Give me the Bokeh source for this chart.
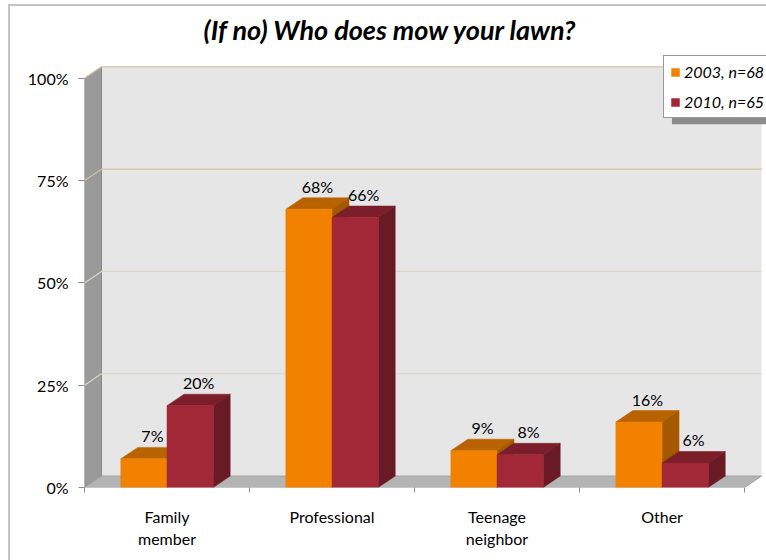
from bokeh.plotting import figure
from bokeh.models import Range1d, FixedTicker, PrintfTickFormatter, Legend, LegendItem
from bokeh.embed import file_html
from bokeh.resources import INLINE
from bokeh.core.properties import value

# ---- data ----
categories = ["Family\nmember", "Professional", "Teenage\nneighbor", "Other"]
series_names = ["2003, n=68", "2010, n=65"]
values_2003 = [7, 68, 9, 16]
values_2010 = [20, 66, 8, 6]
y_ticks = [0, 25, 50, 75, 100]
title_text = "(If no) Who does mow your lawn?"

# ---- styling ----
FONT = "Lato"
DX = 0.103      # depth offset along x (category units)
DY = 2.8        # depth offset along y (percent units)
BW = 0.28       # bar width (category units)
front_cols = ["#F28100", "#A22838"]
top_cols = ["#B86200", "#7C1E2A"]
side_cols = ["#A45800", "#6A1A24"]

ncat = len(categories)
ymax = y_ticks[-1]

border_bg = ("linear-gradient(#C4C4C4,#C4C4C4) 8px 4px / 2px 100% no-repeat, "
             "linear-gradient(#C4C4C4,#C4C4C4) 8px 4px / 100% 2px no-repeat, white")

p = figure(width=766, height=560, output_backend="svg", toolbar_location=None,
           x_range=Range1d(0, 4.133), y_range=Range1d(0, 106.8),
           min_border_left=84, min_border_right=0, min_border_top=50,
           min_border_bottom=73, background_fill_color="white",
           border_fill_color=None, outline_line_color=None,
           styles={"background": border_bg})

p.title.text = title_text
p.title.align = "left"
p.title.offset = 119
p.title.text_font = FONT
p.title.text_font_size = "27px"
p.title.text_font_style = "bold italic"
p.title.text_color = "black"

p.xgrid.visible = False
p.ygrid.visible = False

# ---- walls ----
p.patch([DX, ncat + DX, ncat + DX, DX], [DY, DY, ymax + DY, ymax + DY],
        fill_color="#E6E6E6", line_color=None)
p.patch([0, DX, DX, 0], [0, DY, ymax + DY, ymax],
        fill_color="#9A9A9A", line_color="#888888", line_width=1)
p.patch([0, ncat, ncat + DX, DX], [0, 0, DY, DY],
        fill_color="#B4B4B4", line_color="#A0A0A0", line_width=1)

# gridlines on back wall and side wall
for v in y_ticks[1:]:
    col = "#CFC3A6" if v in (75, 100) else "#DCD6C8"
    p.line([0, DX, ncat + DX], [v, v + DY, v + DY], line_color=col, line_width=1.2)

# ---- legend shadow ----
p.quad(left=[3.56], right=[4.2], top=[104.0], bottom=[88.8],
       fill_color="#8C8C8C", line_color=None)

# ---- bars ----
front_renderers = []
for s, vals in enumerate([values_2003, values_2010]):
    xs_f, ys_f, xs_t, ys_t, xs_s, ys_s = [], [], [], [], [], []
    for i, h in enumerate(vals):
        c = i + 0.5
        x0 = c - BW if s == 0 else c
        x1 = x0 + BW
        xs_f.append([x0, x1, x1, x0]); ys_f.append([0, 0, h, h])
        xs_t.append([x0, x1, x1 + DX, x0 + DX]); ys_t.append([h, h, h + DY, h + DY])
        xs_s.append([x1, x1 + DX, x1 + DX, x1]); ys_s.append([0, DY, h + DY, h])
    p.patches(xs_t, ys_t, fill_color=top_cols[s], line_color=top_cols[s], line_width=0.5)
    p.patches(xs_s, ys_s, fill_color=side_cols[s], line_color=side_cols[s], line_width=0.5)
    r = p.patches(xs_f, ys_f, fill_color=front_cols[s], line_color=front_cols[s], line_width=0.5)
    front_renderers.append(r)
    lx = [(i + 0.5 - BW / 2 if s == 0 else i + 0.5 + BW / 2) + DX / 2 for i in range(ncat)]
    ly = [h + DY for h in vals]
    p.text(x=lx, y=ly, text=[f"{h}%" for h in vals], text_align="center",
           text_baseline="bottom", y_offset=-2, text_font=value(FONT),
           text_font_size="16px", text_color="black")

# ---- axes ----
xa = p.xaxis[0]
xa.ticker = FixedTicker(ticks=[i + 0.5 for i in range(ncat)],
                        minor_ticks=list(range(ncat + 1)))
xa.major_label_overrides = {i + 0.5: categories[i] for i in range(ncat)}
xa.major_tick_line_color = None
xa.minor_tick_line_color = "#8C8C8C"
xa.minor_tick_out = 5
xa.minor_tick_in = 0
xa.axis_line_color = None
xa.major_label_standoff = 13
xa.major_label_text_font = FONT
xa.major_label_text_font_size = "16px"
xa.major_label_text_color = "black"

ya = p.yaxis[0]
ya.ticker = FixedTicker(ticks=y_ticks, minor_ticks=[])
ya.formatter = PrintfTickFormatter(format="%d%%")
ya.major_tick_line_color = "#8C8C8C"
ya.major_tick_out = 6
ya.major_tick_in = 0
ya.axis_line_color = None
ya.major_label_standoff = 10
ya.major_label_text_font = FONT
ya.major_label_text_font_size = "16px"
ya.major_label_text_color = "black"

# ---- legend ----
legend = Legend(items=[LegendItem(label=series_names[k], renderers=[front_renderers[k]])
                       for k in range(2)],
                location=(579, 369), orientation="vertical",
                glyph_width=10, glyph_height=10, label_standoff=4, spacing=11,
                padding=6, margin=0, label_text_font=FONT, label_text_font_size="16px",
                label_text_font_style="italic", label_text_color="black",
                border_line_color="#333333", border_line_width=1,
                background_fill_color="white", background_fill_alpha=1)
p.add_layout(legend)

open("out.html", "w").write(file_html(p, INLINE))
